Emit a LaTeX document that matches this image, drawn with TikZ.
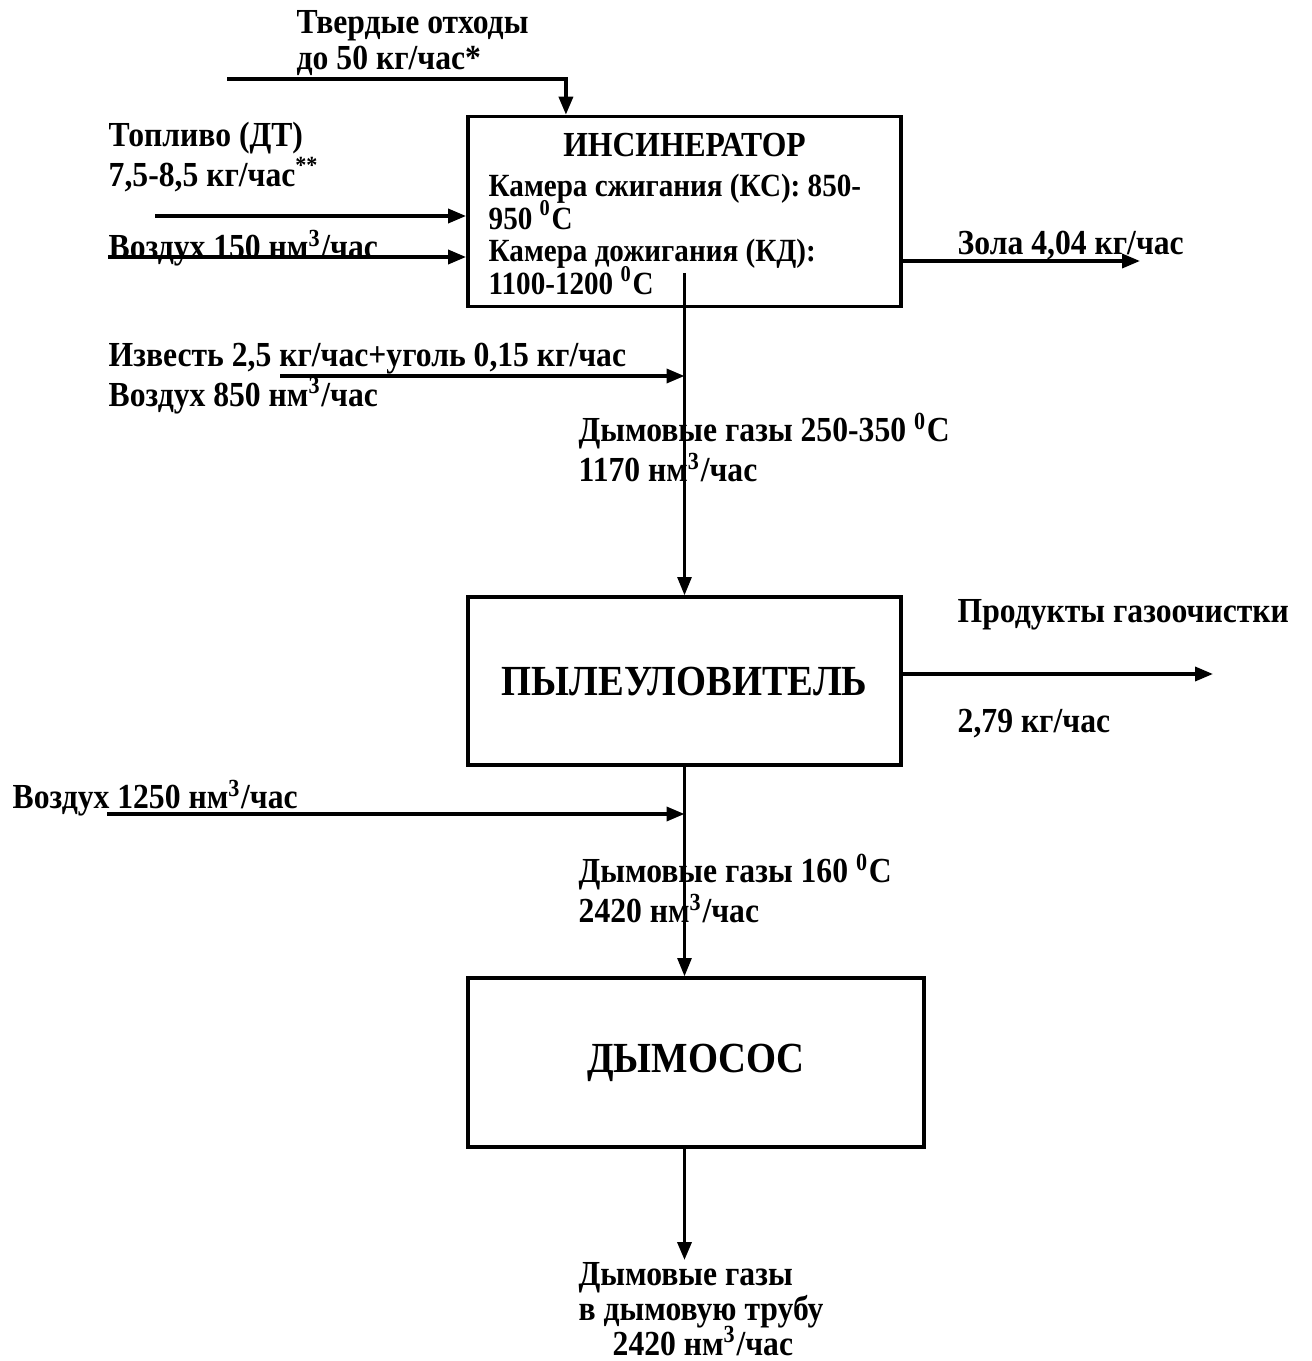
\documentclass[tikz,border=0pt]{standalone}
\usepackage{fontspec}
\setmainfont{Liberation Serif}[FakeStretch=0.9]
\usepackage{tikz}
\usetikzlibrary{positioning,arrows.meta}
\newcommand\tightlines{\lineskiplimit=-5pt\relax}

\begin{document}
\begin{tikzpicture}[
    x=0.01cm, y=-0.01cm,
    box/.style={rectangle, draw, line width=1pt, minimum width=4.33cm, minimum height=1.9cm},
    boxtitle/.style={font=\fontsize{12.2}{14}\selectfont\bfseries},
    lbl/.style={font=\fontsize{10}{10.2}\selectfont\bfseries, align=left, anchor=north west, inner sep=0pt},
    arrow/.style={-{Triangle[length=1.8mm,width=1.4mm]}, line width=1pt},
    flow/.style={arrow, line width=0.7pt},
]
\useasboundingbox (0,0) rectangle (1311,1361);
\node[box] (inc) at (684.5,211.5) {};
\node[box, minimum height=1.68cm] (pyl) at (684.5,681) {};
\node[box, minimum width=4.56cm, minimum height=1.69cm] (dym) at (696,1062.5) {};
\node[font=\fontsize{10}{11}\selectfont\bfseries, anchor=base] (inc-title) at (684.5,157) {ИНСИНЕРАТОР};
\node[lbl, font={\fontsize{9.2}{9.35}\selectfont\bfseries\tightlines}] (inc-text) at (488,173)
    {Камера сжигания (КС): 850-\\
     950 \textsuperscript{0}C\\
     Камера дожигания (КД):\\
     1100-1200 \textsuperscript{0}C};
\node[boxtitle] at (pyl.center) (pyl-title) {ПЫЛЕУЛОВИТЕЛЬ};
\node[boxtitle] at (dym.center) (dym-title) {ДЫМОСОС};
\node[lbl] (waste) at (296,10) {Твердые отходы\\ до 50 кг/час*};
\node[lbl] (fuel) at (108,121) {Топливо (ДТ)\\ 7,5-8,5 кг/час\textsuperscript{**}};
\node[lbl] (air1) at (108,229) {Воздух 150 нм\textsuperscript{3}/час};
\node[lbl] (ash) at (957,230) {Зола 4,04 кг/час};
\node[lbl] (lime) at (108,342) {Известь 2,5 кг/час+уголь 0,15 кг/час\\ Воздух 850 нм\textsuperscript{3}/час};
\node[lbl] (gas1) at (578,412) {Дымовые газы 250-350 \textsuperscript{0}C\\ 1170 нм\textsuperscript{3}/час};
\node[lbl] (prod) at (957,599) {Продукты газоочистки};
\node[lbl] (prod-rate) at (957,709) {2,79 кг/час};
\node[lbl] (air3) at (12,779) {Воздух 1250 нм\textsuperscript{3}/час};
\node[lbl] (gas2) at (578,853) {Дымовые газы 160 \textsuperscript{0}C\\ 2420 нм\textsuperscript{3}/час};
\node[lbl, font={\fontsize{10}{9.9}\selectfont\bfseries\tightlines}] (out) at (578,1262)
    {Дымовые газы\\ в дымовую трубу\\ \hspace*{0.34cm}2420 нм\textsuperscript{3}/час};
\coordinate (waste-in) at (227,79);
\coordinate (fuel-in) at (155,216);
\coordinate (air1-in) at (108,257);
\coordinate (ash-out) at (1140,261);
\coordinate (flue) at (684.5,273);
\coordinate (lime-in) at (280,376);
\coordinate (prod-out) at (1213,674);
\coordinate (air3-in) at (107,814);
\coordinate (stack) at (684.5,1260);
\draw[arrow] (waste-in) -| ([xshift=-1.185cm]inc.north);
\draw[arrow] (fuel-in) -- (fuel-in -| inc.west);
\draw[arrow] (air1-in) -- (air1-in -| inc.west);
\draw[arrow] (ash-out -| inc.east) -- (ash-out);
\draw[flow] (flue) -- (pyl.north);
\draw[arrow] (lime-in) -- (lime-in -| pyl.north);
\draw[arrow] (prod-out -| pyl.east) -- (prod-out);
\draw[arrow] (air3-in) -- (air3-in -| pyl.south);
\draw[flow] (pyl.south) -- (pyl.south |- dym.north);
\draw[arrow] (pyl.south |- dym.south) -- (stack);
\end{tikzpicture}
\end{document}
